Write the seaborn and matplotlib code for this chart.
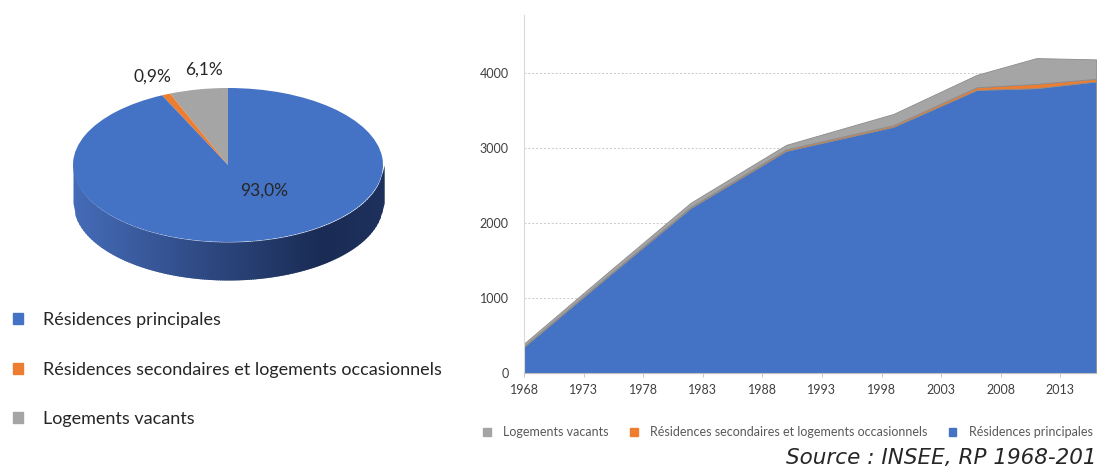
import numpy as np
import matplotlib
matplotlib.use('Agg')
import matplotlib.pyplot as plt
from matplotlib.patches import Patch
import seaborn as sns

# -------------------------------------------------------------------------
# Données
# -------------------------------------------------------------------------
annees = [1968, 1975, 1982, 1990, 1999, 2006, 2011, 2016]
res_principales = [348, 1280, 2200, 2960, 3280, 3772, 3795, 3884]
res_secondaires = [10, 12, 15, 20, 22, 36, 58, 36]
log_vacants = [35, 45, 55, 60, 150, 165, 343, 259]

categories = ['Résidences principales',
              'Résidences secondaires et logements occasionnels',
              'Logements vacants']
parts_2016 = [93.0, 0.9, 6.1]

BLEU, ORANGE, GRIS = '#4472C4', '#ED7D31', '#A5A5A5'

sns.set_theme(style='white')
plt.rcParams['font.family'] = ['Lato', 'DejaVu Sans']

W, H = 1098, 468
fig = plt.figure(figsize=(W / 100, H / 100), dpi=100)

# -------------------------------------------------------------------------
# Camembert "3D" (ellipse + tranche)
# -------------------------------------------------------------------------
axp = fig.add_axes([0, 0, 460 / W, 1])
k = 77 / 155.0                      # écrasement vertical
cx, cy_px, r = 228, 165, 155
cy = (H - cy_px) / k

# tranche avant en dégradé
depth = 38 / k
xs = np.linspace(cx - r, cx + r, 160)
c0 = np.array([0.27, 0.42, 0.72])
c1 = np.array([0.10, 0.17, 0.33])
for i in range(len(xs) - 1):
    xx = np.array([xs[i], xs[i + 1] + 1.2])
    low = cy - np.sqrt(np.clip(r ** 2 - (xx - cx) ** 2, 0, None))
    t = i / (len(xs) - 2)
    col = c0 + (c1 - c0) * min(1, t / 0.8) if t < 0.8 else c1 + (c0 - c1) * (t - 0.8) * 0.4
    axp.fill_between(xx, low - depth, low, color=col, lw=0, zorder=1)

# ordre Excel : vacants, secondaires, principales (sens antihoraire depuis midi)
vals = [parts_2016[2], parts_2016[1], parts_2016[0]]
axp.pie(vals, colors=[GRIS, ORANGE, BLEU], startangle=90, counterclock=True,
        center=(cx, cy), radius=r, frame=True,
        wedgeprops=dict(linewidth=0, zorder=2))
axp.set_aspect('auto')
axp.set_xlim(0, 460)
axp.set_ylim(0, H / k)
axp.axis('off')

def fmt(v):
    return f"{v:.1f}".replace('.', ',') + '%'

kw = dict(ha='center', va='center', fontsize=12.5, color='#262626')
axp.text(204, (H - 70) / k, fmt(parts_2016[2]), **kw)
axp.text(152, (H - 77) / k, fmt(parts_2016[1]), **kw)
axp.text(264, (H - 191) / k, fmt(parts_2016[0]), **kw)

# légende du camembert
handles_p = [Patch(color=c) for c in (BLEU, ORANGE, GRIS)]
fig.legend(handles_p, categories, loc='upper left', bbox_to_anchor=(-3 / W, 1 - 296 / H),
           frameon=False, fontsize=13, handlelength=0.55, handleheight=0.55,
           handletextpad=1.1, labelspacing=1.85, labelcolor='#262626')

# -------------------------------------------------------------------------
# Graphique en aires empilées
# -------------------------------------------------------------------------
ax = fig.add_axes([524 / W, (H - 373) / H, 572 / W, 358 / H])
ax.stackplot(annees, res_principales, res_secondaires, log_vacants,
             colors=[BLEU, ORANGE, GRIS], edgecolor='#8c8c8c', linewidth=0.6, zorder=2)
ax.set_xlim(1968, 2016)
ax.set_ylim(0, 4770)
ax.set_xticks(range(1968, 2017, 5))
ax.set_yticks(range(0, 4001, 1000))
for yv in range(1000, 4001, 1000):
    ax.axhline(yv, color='#c8c8c8', lw=0.7, ls=(0, (2, 2)), zorder=1)
ax.tick_params(axis='x', labelsize=9, length=3, width=0.6,
               direction='out', bottom=True, pad=5, color='#bfbfbf')
ax.tick_params(axis='y', labelsize=9, length=0, pad=11)
for lab in ax.get_xticklabels() + ax.get_yticklabels():
    lab.set_color('#404040')
sns.despine(ax=ax, top=True, right=True)
ax.spines['left'].set_color('#d9d9d9')
ax.spines['bottom'].set_color('#bfbfbf')
ax.spines['left'].set_linewidth(0.8)
ax.spines['bottom'].set_linewidth(0.8)
ax.grid(False)

handles_a = [Patch(color=GRIS), Patch(color=ORANGE), Patch(color=BLEU)]
labels_a = ['Logements vacants', categories[1], categories[0]]
fig.legend(handles_a, labels_a, loc='center', bbox_to_anchor=(788 / W, 1 - 432 / H),
           ncol=3, frameon=False, fontsize=9, handlelength=0.6, handleheight=0.6,
           handletextpad=1.0, columnspacing=1.7, labelcolor='#595959')

fig.text(1097 / W, 1 - 458 / H, 'Source : INSEE, RP 1968-201', ha='right', va='center',
         fontsize=15.5, style='italic', family='DejaVu Sans', color='#262626')

fig.savefig('out.png', dpi=100)
